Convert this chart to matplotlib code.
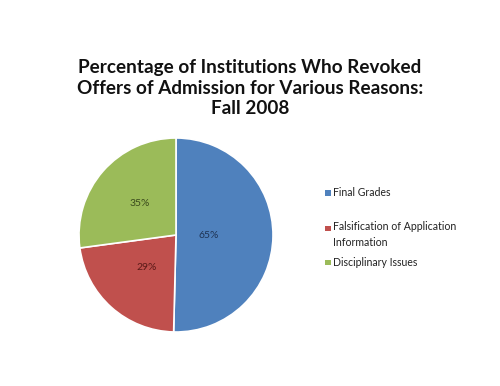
import numpy as np
import matplotlib
matplotlib.use('Agg')
import matplotlib.pyplot as plt
from matplotlib.patches import Rectangle

# data
categories = ['Final Grades', 'Falsification of Application\nInformation', 'Disciplinary Issues']
values = [65, 29, 35]
colors = ['#4F81BD', '#C0504D', '#9BBB59']
label_colors = ['#1F3455', '#5A1A18', '#3A4A1C']
title = 'Percentage of Institutions Who Revoked\nOffers of Admission for Various Reasons:\nFall 2008'

W, H = 500, 386
fig = plt.figure(figsize=(W/100, H/100), dpi=100)
fig.patch.set_facecolor('white')

# pie axes in pixel coordinates: centre (176,235), radius 97
cx, cy, r = 176, 235, 97
ax = fig.add_axes([(cx - r)/W, (H - cy - r)/H, 2*r/W, 2*r/H])
wedges, _ = ax.pie(values, colors=colors, startangle=90, counterclock=False,
                   radius=1, wedgeprops=dict(edgecolor='white', linewidth=1.2))
ax.set_xlim(-1, 1)
ax.set_ylim(-1, 1)
ax.set_aspect('equal')
ax.axis('off')

# value labels inside slices
dists = [0.34, 0.45, 0.5]
for w, v, d, c in zip(wedges, values, dists, label_colors):
    ang = np.deg2rad((w.theta1 + w.theta2) / 2)
    ax.text(d*np.cos(ang), d*np.sin(ang), f'{v}%', ha='center', va='center',
            fontsize=7.5, color=c, family='Lato')

# title
fig.text(250/W, 1 - 88/H, title, ha='center', va='center', fontsize=13.6,
         fontweight='bold', family='Lato', linespacing=1.25, color='#111111')

# legend drawn by hand (y of first line of each entry, pixels)
leg_y = [193, 228, 262]
for cat, col, y in zip(categories, colors, leg_y):
    nlines = cat.count('\n') + 1
    fig.patches.append(Rectangle((325/W, 1 - (y + 3)/H), 5.5/W, 5.5/H,
                                 transform=fig.transFigure, facecolor=col,
                                 edgecolor='none'))
    fig.text(333/W, 1 - (y + (nlines - 1)*6.5)/H, cat, ha='left', va='center',
             fontsize=7.6, family='Lato', color='#222222', linespacing=1.45)

fig.savefig('out.png', dpi=100, facecolor='white')
